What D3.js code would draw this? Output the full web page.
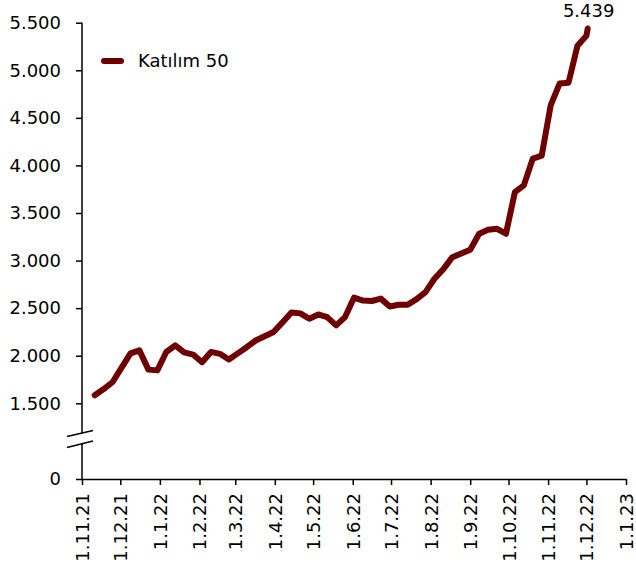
<!DOCTYPE html>
<html>
<head>
<meta charset="utf-8">
<script src="https://cdn.jsdelivr.net/npm/d3@7"></script>
<style>
  body { margin: 0; background: #fff; }
  text { font-family: 'DejaVu Sans', sans-serif; }
</style>
</head>
<body>
<div id="chart"></div>
<script>
// weekly dates (last one is the latest day)
const dates = [
  '2021-11-11', '2021-11-18', '2021-11-25', '2021-12-02', '2021-12-09', '2021-12-16', '2021-12-23', '2021-12-30',
  '2022-01-06', '2022-01-13', '2022-01-20', '2022-01-27', '2022-02-03', '2022-02-10', '2022-02-17', '2022-02-24',
  '2022-03-03', '2022-03-10', '2022-03-17', '2022-03-24', '2022-03-31', '2022-04-07', '2022-04-14', '2022-04-21',
  '2022-04-28', '2022-05-05', '2022-05-12', '2022-05-19', '2022-05-26', '2022-06-02', '2022-06-09', '2022-06-16',
  '2022-06-23', '2022-06-30', '2022-07-07', '2022-07-14', '2022-07-21', '2022-07-28', '2022-08-04', '2022-08-11',
  '2022-08-18', '2022-08-25', '2022-09-01', '2022-09-08', '2022-09-15', '2022-09-22', '2022-09-29', '2022-10-06',
  '2022-10-13', '2022-10-20', '2022-10-27', '2022-11-03', '2022-11-10', '2022-11-17', '2022-11-24', '2022-12-01',
  '2022-12-02'
];
const katilim50 = [
  1584, 1650, 1724, 1875, 2025, 2056, 1854, 1846,
  2039, 2109, 2035, 2012, 1932, 2040, 2020, 1960,
  2025, 2090, 2160, 2205, 2250, 2350, 2455, 2445,
  2389, 2434, 2406, 2319, 2406, 2610, 2580, 2575,
  2600, 2518, 2536, 2535, 2595, 2669, 2809, 2910,
  3036, 3075, 3114, 3282, 3323, 3334, 3282, 3720,
  3790, 4072, 4103, 4630, 4860, 4870, 5258, 5363,
  5439
];
const seriesName = 'Katılım 50';
const yTicks = [0, 1500, 2000, 2500, 3000, 3500, 4000, 4500, 5000, 5500];
const xStart = '2021-11-01';
const xEnd = '2023-01-01';

const w = 636;
const h = 568;
const lineColor = '#6e0000';

const parse = d3.timeParse('%Y-%m-%d');
const data = dates.map((d, i) => ({ date: parse(d), value: katilim50[i] }));

// Turkish number format (dot as thousands separator)
const tr = d3.formatLocale({ decimal: ',', thousands: '.', grouping: [3], currency: ['', ' TL'] });
const fmt = tr.format(',d');

const svg = d3.select('#chart')
  .append('svg')
  .attr('width', w)
  .attr('height', h);

// x: time scale, monthly ticks
const x = d3.scaleTime()
  .domain([parse(xStart), parse(xEnd)])
  .range([82, 626]);

// y: broken axis, 0 .. 1500 squeezed below the break
const y = d3.scaleLinear()
  .domain([0, 1500, 5500])
  .range([479, 403.3, 22.7]);

// y axis
const yAxis = svg.append('g')
  .attr('transform', 'translate(82,0)')
  .call(d3.axisLeft(y).tickValues(yTicks).tickFormat(fmt).tickSize(6).tickSizeOuter(0).tickPadding(15));
yAxis.selectAll('text').style('font-size', '18px').attr('fill', '#000');
yAxis.selectAll('line, path').attr('stroke', '#000').attr('stroke-width', 1.5);
yAxis.select('.domain').attr('d', `M0,${y(5500)}V${y(0)}`);

// x axis
const xAxis = svg.append('g')
  .attr('transform', `translate(0,${y(0)})`)
  .call(d3.axisBottom(x)
    .ticks(d3.timeMonth.every(1))
    .tickFormat(d => `1.${d.getMonth() + 1}.${d3.timeFormat('%y')(d)}`)
    .tickSize(6)
    .tickSizeOuter(0));
xAxis.selectAll('line, path').attr('stroke', '#000').attr('stroke-width', 1.5);
xAxis.selectAll('text')
  .style('font-size', '18px')
  .attr('fill', '#000')
  .attr('text-anchor', 'end')
  .attr('transform', 'rotate(-90)')
  .attr('x', -14)
  .attr('y', 0)
  .attr('dy', '0.36em');

// axis break marks
const brk = svg.append('g');
brk.append('polygon')
  .attr('points', '67,437 93,431 93,441 67,447')
  .attr('fill', '#fff');
brk.append('line')
  .attr('x1', 67).attr('y1', 436.5).attr('x2', 93).attr('y2', 430.5)
  .attr('stroke', '#000').attr('stroke-width', 1.5);
brk.append('line')
  .attr('x1', 67).attr('y1', 447.5).attr('x2', 93).attr('y2', 441)
  .attr('stroke', '#000').attr('stroke-width', 1.5);

// the line
const line = d3.line()
  .x(d => x(d.date))
  .y(d => y(d.value));

svg.append('path')
  .datum(data)
  .attr('fill', 'none')
  .attr('stroke', lineColor)
  .attr('stroke-width', 6)
  .attr('stroke-linejoin', 'round')
  .attr('stroke-linecap', 'round')
  .attr('d', line);

// last value label
const last = data[data.length - 1];
svg.append('text')
  .attr('x', x(last.date) + 1)
  .attr('y', 17)
  .attr('text-anchor', 'middle')
  .style('font-size', '18px')
  .text(fmt(last.value));

// legend
svg.append('line')
  .attr('x1', 104).attr('x2', 121)
  .attr('y1', 61).attr('y2', 61)
  .attr('stroke', lineColor)
  .attr('stroke-width', 6)
  .attr('stroke-linecap', 'round');
svg.append('text')
  .attr('x', 138)
  .attr('y', 67)
  .style('font-size', '18px')
  .text(seriesName);
</script>
</body>
</html>
